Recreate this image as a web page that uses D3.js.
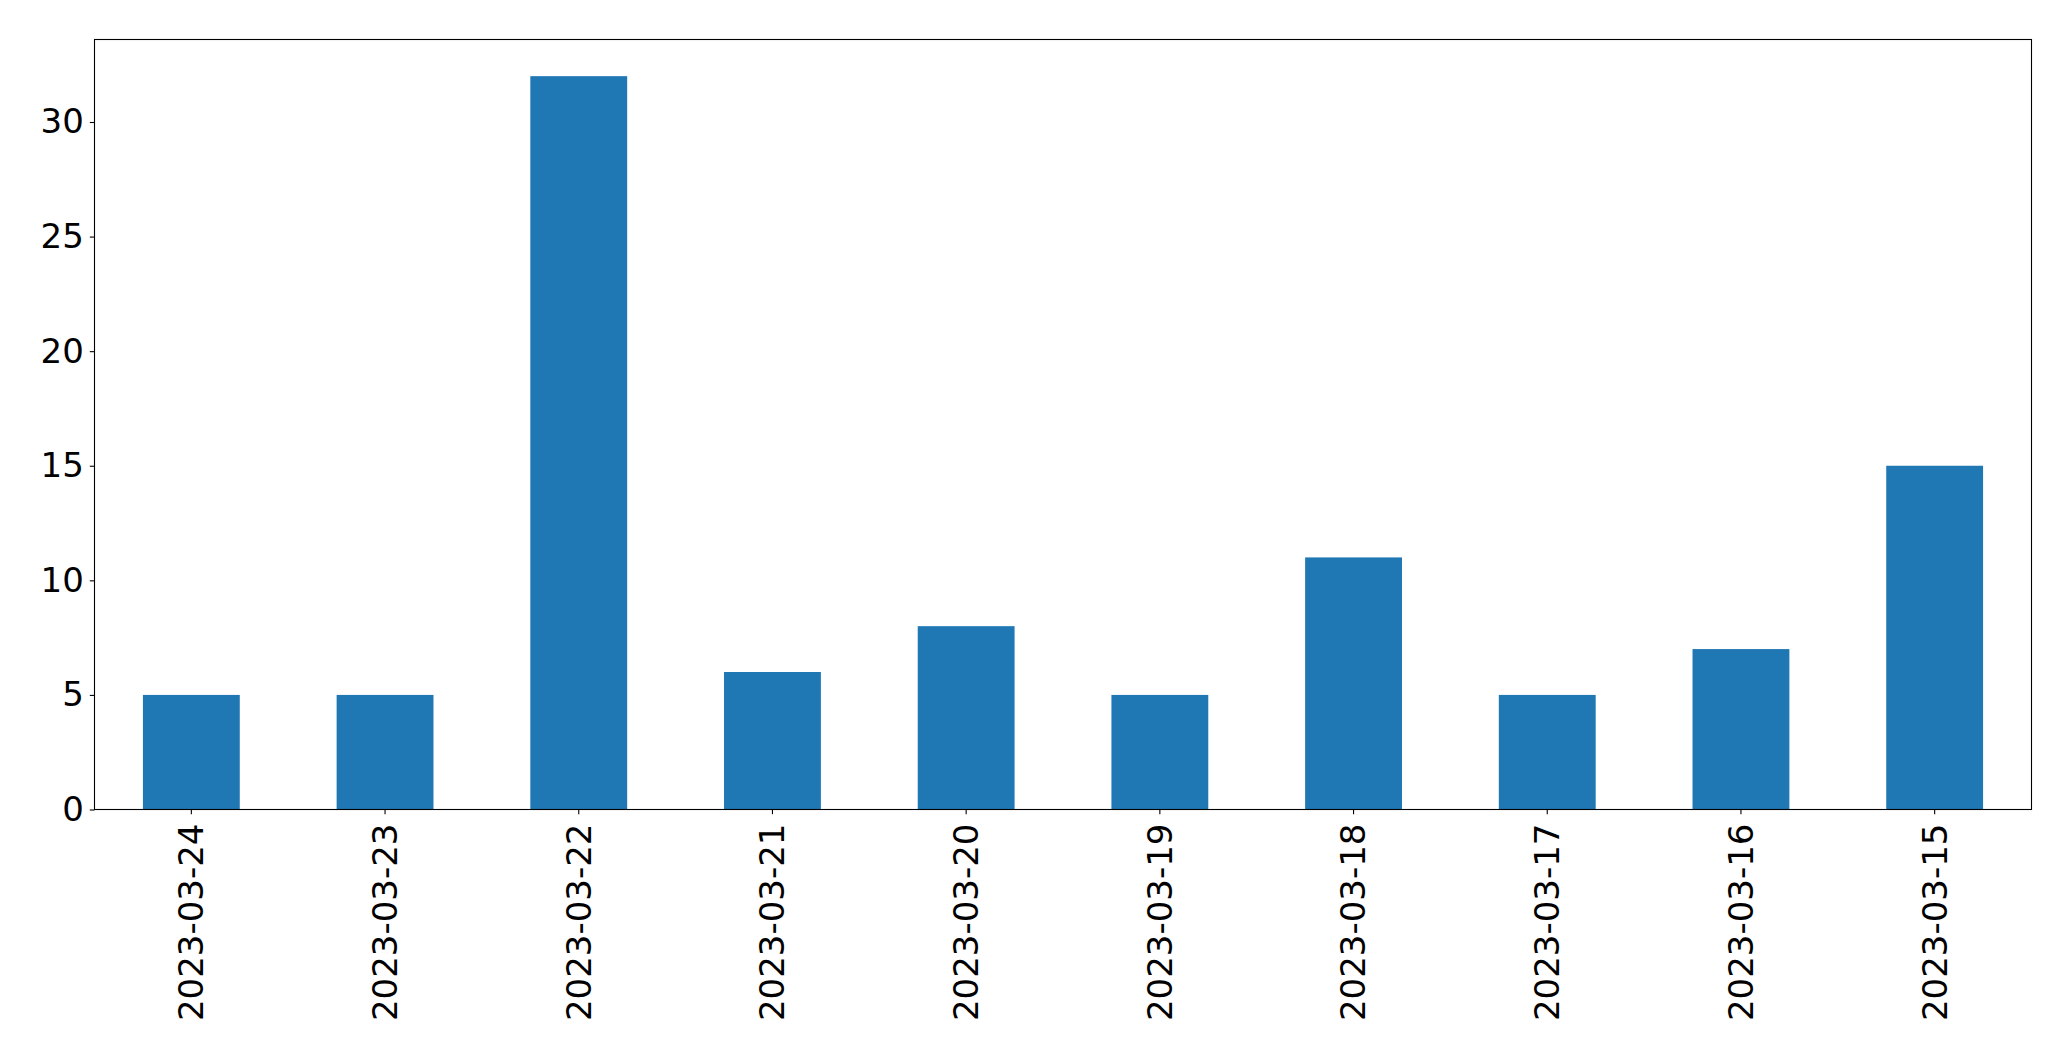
<!DOCTYPE html>
<html>
<head>
<meta charset="utf-8">
<script src="https://cdn.jsdelivr.net/npm/d3@7"></script>
<style>
  html, body { margin: 0; padding: 0; background: #fff; }
  svg { display: block; }
  text { font-family: "DejaVu Sans", sans-serif; fill: #000; }
</style>
</head>
<body>
<svg id="chart" width="2071" height="1061"></svg>
<script>
'use strict';

/* data */
const dates  = ['2023-03-24', '2023-03-23', '2023-03-22', '2023-03-21', '2023-03-20',
                '2023-03-19', '2023-03-18', '2023-03-17', '2023-03-16', '2023-03-15'];
const counts = [5, 5, 32, 6, 8, 5, 11, 5, 7, 15];
const yTicks = [0, 5, 10, 15, 20, 25, 30];

const W = 2071, H = 1061;
const m = { left: 94.5, right: 2031.5, top: 39.5, bottom: 809.5 };
const FS = 34;

const svg = d3.select('#chart');

const x = d3.scaleBand().domain(dates).range([m.left, m.right]).paddingInner(0.5).paddingOuter(0.25);
const y = d3.scaleLinear().domain([0, d3.max(counts) * 1.05]).range([m.bottom, m.top]);

/* bars */
svg.append('g').selectAll('rect').data(dates).join('rect')
  .attr('x', d => x(d))
  .attr('width', x.bandwidth())
  .attr('y', (d, i) => y(counts[i]))
  .attr('height', (d, i) => y(0) - y(counts[i]))
  .attr('fill', '#1f77b4');

/* y axis */
const yAxis = svg.append('g')
  .attr('transform', `translate(${m.left},0)`)
  .call(d3.axisLeft(y).tickValues(yTicks).tickSize(4.7).tickPadding(6).tickFormat(d3.format('d')));
yAxis.select('.domain').remove();
yAxis.selectAll('line').attr('stroke', '#000').attr('stroke-width', 1.1);
yAxis.selectAll('text').style('font-size', FS + 'px').style('font-family', '"DejaVu Sans", sans-serif').attr('fill', '#000');

/* x axis */
const xAxis = svg.append('g')
  .attr('transform', `translate(0,${m.bottom})`)
  .call(d3.axisBottom(x).tickSize(4.7).tickPadding(0));
xAxis.select('.domain').remove();
xAxis.selectAll('line').attr('stroke', '#000').attr('stroke-width', 1.1);
xAxis.selectAll('text')
  .style('font-size', FS + 'px').style('font-family', '"DejaVu Sans", sans-serif').attr('fill', '#000')
  .attr('text-anchor', 'end')
  .attr('dy', null)
  .attr('y', 0)
  .attr('transform', 'translate(0,14) rotate(-90)')
  .attr('dy', '0.35em');

/* frame */
svg.append('rect')
  .attr('x', m.left).attr('y', m.top)
  .attr('width', m.right - m.left).attr('height', m.bottom - m.top)
  .attr('fill', 'none').attr('stroke', '#000').attr('stroke-width', 1.1);
</script>
</body>
</html>
